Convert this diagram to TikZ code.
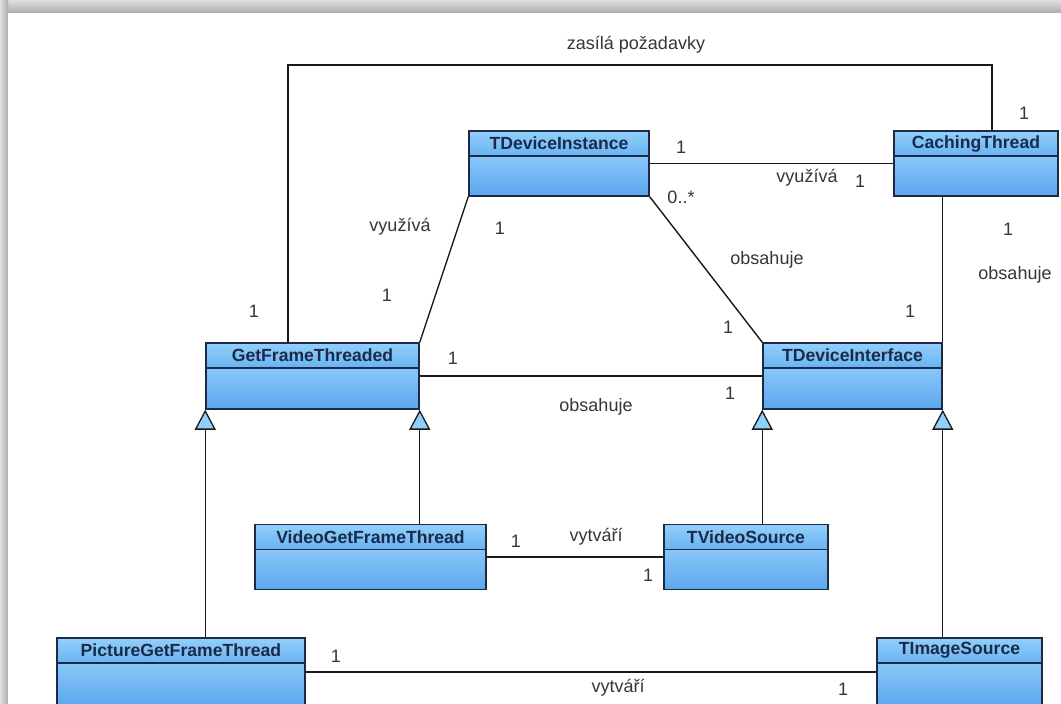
\documentclass[tikz,border=0pt]{standalone}
\usepackage{fontspec}
\setmainfont{Liberation Sans}
\usetikzlibrary{arrows.meta}
\definecolor{classedge}{HTML}{1C2A45}
\definecolor{classtext}{HTML}{1B2A4A}
\definecolor{headtop}{HTML}{93CFFA}
\definecolor{headbot}{HTML}{67B3F3}
\definecolor{bodytop}{HTML}{A4DAFF}
\definecolor{bodybot}{HTML}{5CA7EE}
\definecolor{tricolor}{HTML}{8ED0FA}
\definecolor{labelgray}{HTML}{363636}

\tikzset{
  umlbox/.style={draw=classedge,line width=1.5pt,top color=bodytop,bottom color=bodybot,
    inner sep=0pt,minimum height=65pt},
  umlhead/.style={draw=classedge,line width=1.5pt,top color=headtop,bottom color=headbot,
    inner sep=0pt,minimum height=25pt,anchor=north,text=classtext,
    font=\fontsize{17.6}{19}\selectfont\bfseries},
  assoc/.style={draw=black!90,line width=1.4pt},
  extends/.style={draw=black!90,line width=1.4pt,
    -{Triangle[length=20pt,width=21pt,fill=tricolor,line width=1.3pt]}},
  mult/.style={text=labelgray,font=\fontsize{18}{20}\selectfont,inner sep=1pt},
}

\begin{document}
\begin{tikzpicture}[x=1pt,y=-1pt]
  \useasboundingbox (0,0) rectangle (1061,704);
  \clip (0,0) rectangle (1061,704);
  % frame shadow
  \shade[top color=gray!25,bottom color=gray!65] (0,0) rectangle (1061,13);
  \shade[left color=gray!25,right color=gray!65] (0,0) rectangle (8,704);
  \fill[white] (8,13) rectangle (1061,704);

  % classes
  \node[umlbox,minimum width=180pt] (instance) at (559,163.5) {};
  \node[umlhead,minimum width=180pt] (instance-head) at (instance.north) {TDeviceInstance};
  \node[umlbox,minimum width=164pt] (cache) at (976,163.5) {};
  \node[umlhead,minimum width=164pt] (cache-head) at (cache.north) {CachingThread};
  \node[umlbox,minimum width=213pt,minimum height=66pt] (grabber) at (312.5,376) {};
  \node[umlhead,minimum width=213pt] (grabber-head) at (grabber.north) {GetFrameThreaded};
  \node[umlbox,minimum width=179pt,minimum height=66pt] (iface) at (852.5,376) {};
  \node[umlhead,minimum width=179pt] (iface-head) at (iface.north) {TDeviceInterface};
  \node[umlbox,minimum width=231pt] (videograb) at (370.5,557) {};
  \node[umlhead,minimum width=231pt] (videograb-head) at (videograb.north) {VideoGetFrameThread};
  \node[umlbox,minimum width=164pt] (videosrc) at (746,557) {};
  \node[umlhead,minimum width=164pt] (videosrc-head) at (videosrc.north) {TVideoSource};
  \node[umlbox,minimum width=248pt,minimum height=68pt] (picgrab) at (181,672) {};
  \node[umlhead,minimum width=248pt] (picgrab-head) at (picgrab.north) {PictureGetFrameThread};
  \node[umlbox,minimum width=165pt,minimum height=68pt] (imagesrc) at (959.5,672) {};
  \node[umlhead,minimum width=165pt] (imagesrc-head) at (imagesrc.north) {TImageSource};

  % inheritance
  \draw[extends] (grabber.south west |- picgrab.north) -- (grabber.south west);
  \draw[extends] (grabber.south east |- videograb.north) -- (grabber.south east);
  \draw[extends] (iface.south west |- videosrc.north) -- (iface.south west);
  \draw[extends] (iface.south east |- imagesrc.north) -- (iface.south east);

  % associations
  \coordinate (reqleft) at (288,65);
  \coordinate (reqright) at (992,65);
  \draw[assoc] (reqleft |- grabber.north) -- (reqleft) -- (reqright) -- (reqright |- cache.north);
  \draw[assoc] (instance.east) -- (cache.west);
  \draw[assoc] (instance.south west) -- (grabber.north east);
  \draw[assoc] (instance.south east) -- (iface.north west);
  \draw[assoc] (cache.south -| iface.north east) -- (iface.north east);
  \draw[assoc] (grabber.east) -- (iface.west);
  \draw[assoc] (videograb.east) -- (videosrc.west);
  \draw[assoc] (picgrab.east) -- (imagesrc.west);

  % labels
  \node[mult] (req-label) at (636,45) {zasílá požadavky};
  \node[mult] (req-m1) at (254,311) {1};
  \node[mult] (req-m2) at (1024,113) {1};
  \node[mult] (use-m1) at (681,147) {1};
  \node[mult] (use-label) at (807,178) {využívá};
  \node[mult] (use-m2) at (860,181) {1};
  \node[mult] (grab-label) at (400,227) {využívá};
  \node[mult] (grab-m1) at (500,228) {1};
  \node[mult] (grab-m2) at (387,295) {1};
  \node[mult] (holds-m1) at (681,197) {0..*};
  \node[mult] (holds-label) at (767,260) {obsahuje};
  \node[mult] (holds-m2) at (728,327) {1};
  \node[mult] (cache-m1) at (1008,229) {1};
  \node[mult] (cache-label) at (1015,275) {obsahuje};
  \node[mult] (cache-m2) at (910,311) {1};
  \node[mult] (frame-m1) at (453,358) {1};
  \node[mult] (frame-m2) at (730,393) {1};
  \node[mult] (frame-label) at (596,407) {obsahuje};
  \node[mult] (video-m1) at (516,541) {1};
  \node[mult] (video-label) at (596,537) {vytváří};
  \node[mult] (video-m2) at (648,575) {1};
  \node[mult] (pic-m1) at (336,656) {1};
  \node[mult] (pic-label) at (618,688) {vytváří};
  \node[mult] (pic-m2) at (843,689) {1};
\end{tikzpicture}
\end{document}
